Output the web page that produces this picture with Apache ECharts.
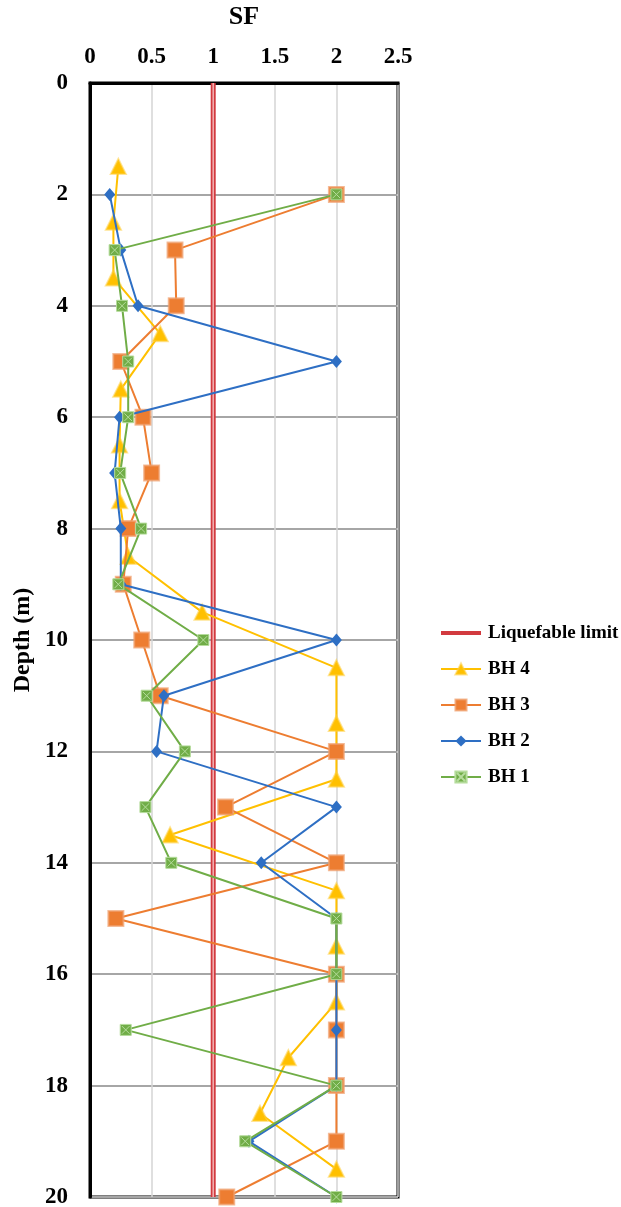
<!DOCTYPE html>
<html>
<head>
<meta charset="utf-8">
<script src="https://cdn.jsdelivr.net/npm/echarts@6/dist/echarts.min.js"></script>
<style>
  html, body { margin: 0; padding: 0; background: #fff; }
  #chart { width: 621px; height: 1207px; }
</style>
</head>
<body>
<div id="chart"></div>
<script>
// Depths (m) sampled for each borehole
const depthsBH4 = [1.5, 2.5, 3.5, 4.5, 5.5, 6.5, 7.5, 8.5, 9.5, 10.5, 11.5, 12.5, 13.5, 14.5, 15.5, 16.5, 17.5, 18.5, 19.5];
const depthsBH = [2, 3, 4, 5, 6, 7, 8, 9, 10, 11, 12, 13, 14, 15, 16, 17, 18, 19, 20];

// Factor of safety (SF) per depth
const sfBH4 = [0.23, 0.19, 0.19, 0.57, 0.25, 0.24, 0.24, 0.31, 0.91, 2.0, 2.0, 2.0, 0.65, 2.0, 2.0, 2.0, 1.61, 1.38, 2.0];
const sfBH3 = [2.0, 0.69, 0.70, 0.25, 0.43, 0.50, 0.31, 0.27, 0.42, 0.57, 2.0, 1.10, 2.0, 0.21, 2.0, 2.0, 2.0, 2.0, 1.11];
const sfBH2 = [0.16, 0.25, 0.39, 2.0, 0.24, 0.20, 0.25, 0.25, 2.0, 0.60, 0.54, 2.0, 1.39, 2.0, 2.0, 2.0, 2.0, 1.29, 2.0];
const sfBH1 = [2.0, 0.20, 0.26, 0.31, 0.31, 0.245, 0.415, 0.23, 0.92, 0.46, 0.77, 0.45, 0.66, 2.0, 2.0, 0.29, 2.0, 1.26, 2.0];

// Liquefaction threshold
const limitSF = 1;
const limitDepths = [0, 20];

const xTicks = { min: 0, max: 2.5, interval: 0.5 };
const yTicks = { min: 0, max: 20, interval: 2 };

const FONT = '"Liberation Serif", "Times New Roman", serif';

function pairs(xs, ys) { return xs.map((x, i) => [x, ys[i]]); }

function boreholeSeries(name, color, xs, ys, symbol, size, extra) {
  return Object.assign({
    name: name,
    type: 'line',
    data: pairs(xs, ys),
    symbol: symbol,
    symbolSize: size,
    lineStyle: { color: color, width: 2 },
    itemStyle: { color: color },
    clip: false,
    animation: false
  }, extra || {});
}

const chart = echarts.init(document.getElementById('chart'));
chart.setOption({
  backgroundColor: '#fff',
  animation: false,
  grid: {
    left: 90, right: 223, top: 83, bottom: 10,
    outerBoundsMode: 'none',
    containLabel: false,
    show: true, borderColor: '#000', borderWidth: 3
  },
  legend: {
    orient: 'vertical',
    left: 434, top: 618,
    itemWidth: 40, itemHeight: 14,
    itemGap: 16,
    textStyle: { fontFamily: FONT, fontWeight: 'bold', fontSize: 19, color: '#000', lineHeight: 20, padding: [0, 0, 0, 2] },
    data: [
      { name: 'Liquefable limit', itemStyle: { opacity: 0 }, lineStyle: { width: 4, color: '#d23a3f' } },
      'BH 4', 'BH 3', 'BH 2', 'BH 1'
    ]
  },
  xAxis: {
    type: 'value',
    position: 'top',
    min: xTicks.min, max: xTicks.max, interval: xTicks.interval,
    name: 'SF',
    nameLocation: 'middle',
    nameGap: 53,
    nameTextStyle: { fontFamily: FONT, fontWeight: 'bold', fontSize: 26, color: '#000' },
    axisLine: { show: true, lineStyle: { color: '#000', width: 3 } },
    axisTick: { show: false },
    axisLabel: { fontFamily: FONT, fontWeight: 'bold', fontSize: 23, color: '#000', margin: 14 },
    splitLine: { show: true, lineStyle: { color: '#d4d4d4', width: 1.5 } }
  },
  yAxis: {
    type: 'value',
    inverse: true,
    min: yTicks.min, max: yTicks.max, interval: yTicks.interval,
    name: 'Depth (m)',
    nameLocation: 'middle',
    nameRotate: 90,
    nameGap: 55,
    nameTextStyle: { fontFamily: FONT, fontWeight: 'bold', fontSize: 24, color: '#000' },
    axisLine: { show: true, lineStyle: { color: '#000', width: 3 } },
    axisTick: { show: false },
    axisLabel: { fontFamily: FONT, fontWeight: 'bold', fontSize: 23, color: '#000', margin: 22 },
    splitLine: { show: true, lineStyle: { color: '#a6a6a6', width: 2 } }
  },
  series: [
    {
      name: 'Liquefable limit',
      type: 'line',
      data: limitDepths.map(d => [limitSF, d]),
      symbol: 'none',
      lineStyle: { color: '#d23a3f', width: 5 },
      itemStyle: { color: '#d23a3f' },
      animation: false,
      z: 2
    },
    {
      name: 'limit-core',
      type: 'line',
      data: limitDepths.map(d => [limitSF, d]),
      symbol: 'none',
      lineStyle: { color: '#f3b3b5', width: 1.5 },
      silent: true,
      animation: false,
      z: 2
    },
    boreholeSeries('BH 4', '#FFC000', sfBH4, depthsBH4, 'triangle', 15,
      { itemStyle: { color: '#FFC000', borderColor: 'rgba(255,205,60,0.55)', borderWidth: 2 }, z: 3 }),
    boreholeSeries('BH 3', '#ED7D31', sfBH3, depthsBH, 'rect', 15,
      { itemStyle: { color: '#ED7D31', borderColor: 'rgba(240,160,110,0.7)', borderWidth: 2 }, z: 4 }),
    boreholeSeries('BH 2', '#2E6FC4', sfBH2, depthsBH, 'diamond', [11, 13],
      { itemStyle: { color: '#2E6FC4' }, z: 5 }),
    boreholeSeries('BH 1', '#70AD47', sfBH1, depthsBH, 'path://M0 0 H10 V10 H0 Z M1.5 1.5 L8.5 8.5 M8.5 1.5 L1.5 8.5', 11,
      { itemStyle: { color: '#70AD47', borderColor: '#b5dc9c', borderWidth: 1 }, z: 6 })
  ]
});
</script>
</body>
</html>
